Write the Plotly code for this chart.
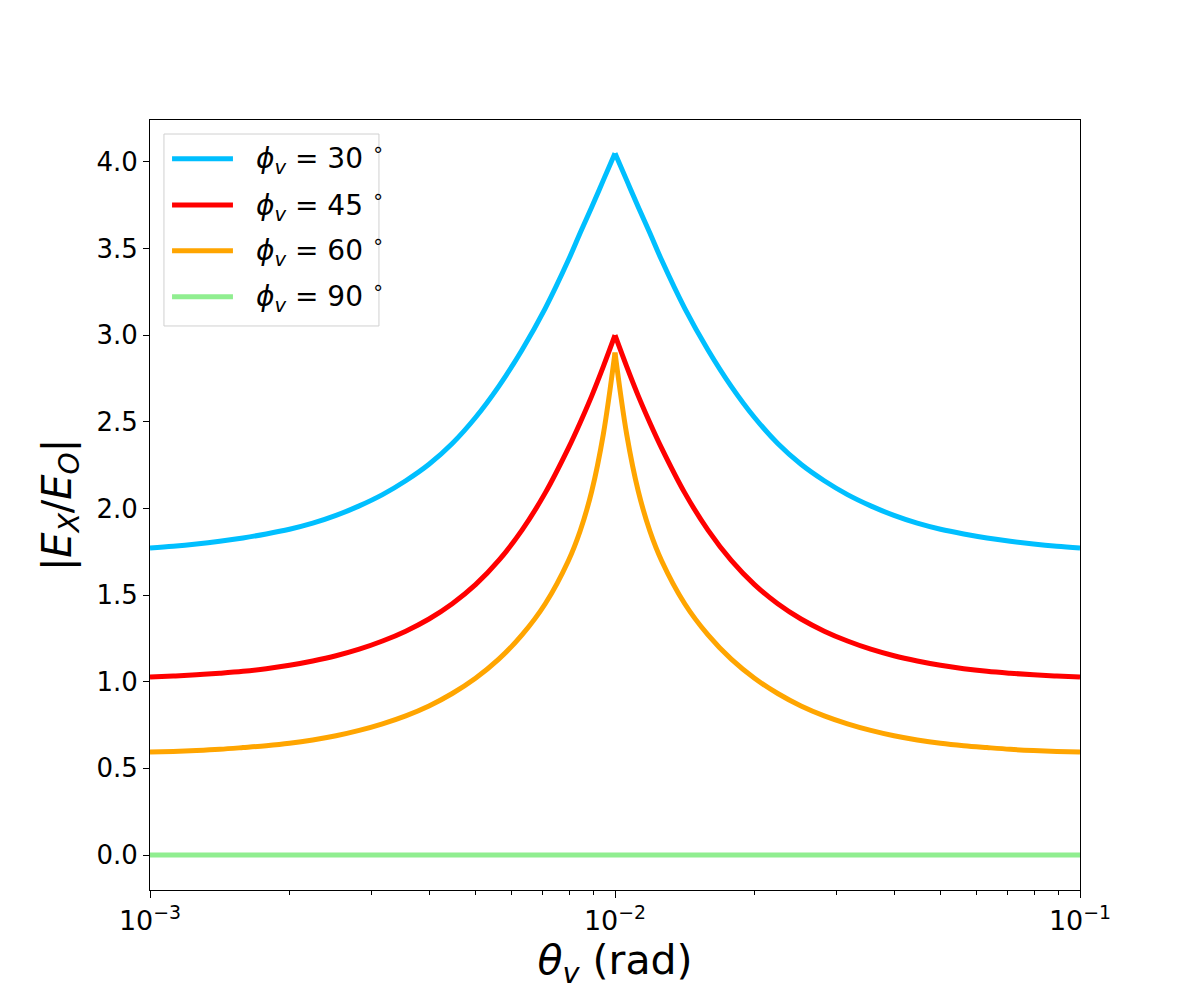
import plotly.graph_objects as go

# viewing angle theta_v (rad), left and right of the cusp at 1e-2
theta_left = [0.001, 0.0011220, 0.0012589, 0.0014125, 0.0015849, 0.0017783, 0.0019953,
              0.0022387, 0.0025119, 0.0028184, 0.0031623, 0.0035481, 0.0039811, 0.0044668,
              0.0050119, 0.0056234, 0.0063096, 0.0070795, 0.0079433, 0.0084140, 0.0089125,
              0.0094406, 0.01]
theta_right = [0.01, 0.010593, 0.011220, 0.011885, 0.012589, 0.014125, 0.015849, 0.017783,
               0.019953, 0.022387, 0.025119, 0.028184, 0.031623, 0.035481, 0.039811, 0.044668,
               0.050119, 0.056234, 0.063096, 0.070795, 0.079433, 0.089125, 0.1]

# |E_X/E_O|
phi30_left = [1.772, 1.782, 1.795, 1.811, 1.830, 1.853, 1.880, 1.915, 1.960, 2.015, 2.080, 2.160,
              2.255, 2.375, 2.525, 2.705, 2.915, 3.155, 3.435, 3.590, 3.740, 3.895, 4.050]
phi30_right = [4.050, 3.895, 3.740, 3.590, 3.435, 3.155, 2.915, 2.705, 2.525, 2.375, 2.255, 2.160,
               2.080, 2.015, 1.960, 1.915, 1.880, 1.853, 1.830, 1.811, 1.795, 1.782, 1.772]
phi45_left = [1.027, 1.033, 1.040, 1.049, 1.060, 1.075, 1.095, 1.120, 1.150, 1.188, 1.235, 1.292,
              1.362, 1.450, 1.560, 1.700, 1.875, 2.090, 2.350, 2.495, 2.650, 2.820, 3.000]
phi45_right = [3.000, 2.820, 2.650, 2.495, 2.350, 2.090, 1.875, 1.700, 1.560, 1.450, 1.362, 1.292,
               1.235, 1.188, 1.150, 1.120, 1.095, 1.075, 1.060, 1.049, 1.040, 1.033, 1.027]
phi60_left = [0.594, 0.598, 0.603, 0.610, 0.620, 0.631, 0.645, 0.664, 0.688, 0.719, 0.757, 0.803,
              0.860, 0.932, 1.020, 1.130, 1.270, 1.450, 1.700, 1.870, 2.100, 2.430, 2.900]
phi60_right = [2.900, 2.430, 2.100, 1.870, 1.700, 1.450, 1.270, 1.130, 1.020, 0.932, 0.860, 0.803,
               0.757, 0.719, 0.688, 0.664, 0.645, 0.631, 0.620, 0.610, 0.603, 0.598, 0.594]
phi90_left = [0.0] * len(theta_left)
phi90_right = [0.0] * len(theta_right)

labels = ["30", "45", "60", "90"]
colors = ["#00BFFF", "#FF0000", "#FFA500", "#90EE90"]
series = [(phi30_left, phi30_right), (phi45_left, phi45_right),
          (phi60_left, phi60_right), (phi90_left, phi90_right)]

minor_vals = [0.002, 0.003, 0.004, 0.005, 0.006, 0.007, 0.008, 0.009,
              0.02, 0.03, 0.04, 0.05, 0.06, 0.07, 0.08, 0.09]

fig = go.Figure()
for (left, right), col in zip(series, colors):
    for xs, ys in [(theta_left, left), (theta_right, right)]:
        fig.add_trace(go.Scatter(
            x=xs, y=ys, mode="lines", showlegend=False,
            line=dict(color=col, width=5, shape="spline", smoothing=1.0),
        ))

# legend drawn by hand so the line samples are long like the original
leg_y = [0.9497, 0.8896, 0.8302, 0.7705]
fig.add_shape(type="rect", xref="paper", yref="paper",
              x0=0.015, x1=0.2462, y0=0.7325, y1=0.9818,
              line=dict(color="#d0d0d0", width=1), fillcolor="rgba(255,255,255,0.8)")
for lab, col, yy in zip(labels, colors, leg_y):
    fig.add_shape(type="line", xref="paper", yref="paper",
                  x0=0.0237, x1=0.0892, y0=yy, y1=yy, line=dict(color=col, width=5))
    fig.add_annotation(xref="paper", yref="paper", x=0.1118, y=yy,
                       xanchor="left", yanchor="middle", showarrow=False,
                       text="<i>ϕ</i><sub><i>v</i></sub> = " + lab + " <sup>∘</sup>",
                       font=dict(size=28, color="black"))

fig.update_xaxes(
    type="log", range=[-3, -1],
    tickvals=[0.001, 0.01, 0.1],
    ticktext=["10<sup>−3</sup>", "10<sup>−2</sup>", "10<sup>−1</sup>"],
    ticks="outside", ticklen=7, tickwidth=1, tickcolor="black",
    minor=dict(tickvals=minor_vals, ticks="outside", ticklen=4, tickcolor="black", showgrid=False),
    showline=True, linecolor="black", linewidth=1, mirror=True,
    showgrid=False, zeroline=False,
    tickfont=dict(size=27, color="black"),
    title=dict(text="<i>θ</i><sub><i>v</i></sub> (rad)", font=dict(size=41, color="black"), standoff=6),
)
fig.update_yaxes(
    range=[-0.202, 4.242],
    tickvals=[0, 0.5, 1, 1.5, 2, 2.5, 3, 3.5, 4],
    ticktext=["0.0", "0.5", "1.0", "1.5", "2.0", "2.5", "3.0", "3.5", "4.0"],
    ticks="outside", ticklen=6, tickwidth=1, tickcolor="black",
    showline=True, linecolor="black", linewidth=1, mirror=True,
    showgrid=False, zeroline=False,
    tickfont=dict(size=26, color="black"),
    title=dict(text="|<i>E</i><sub><i>X</i></sub>/<i>E</i><sub><i>O</i></sub>|",
               font=dict(size=40, color="black"), standoff=12),
)

fig.update_layout(
    width=1200, height=1000,
    margin=dict(l=142, r=128, t=112, b=118),
    paper_bgcolor="white", plot_bgcolor="white",
    font=dict(family="DejaVu Sans", color="black"),
    showlegend=False,
)

fig.write_html("out.html")
